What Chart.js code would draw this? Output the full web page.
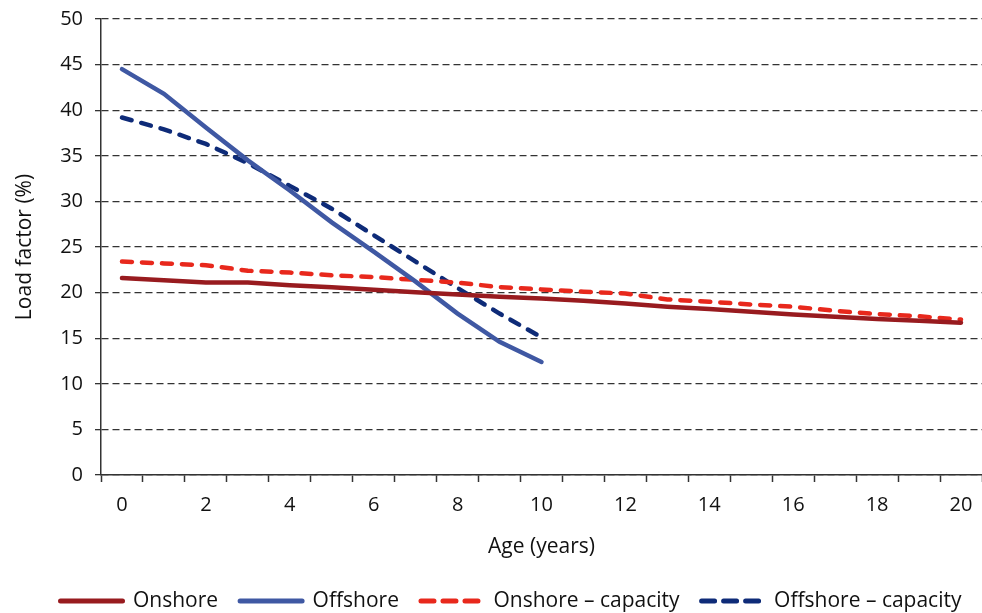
<!DOCTYPE html>
<html>
<head>
<meta charset="utf-8">
<script src="https://cdn.jsdelivr.net/npm/chart.js@4"></script>
<style>
html,body{margin:0;padding:0;background:#fff;}
#wrap{width:982px;height:613px;}
</style>
</head>
<body>
<div id="wrap"><canvas id="c" width="982" height="613"></canvas></div>
<script>
const ages = ['0','1','2','3','4','5','6','7','8','9','10','11','12','13','14','15','16','17','18','19','20'];
const onshore = [21.6, 21.35, 21.1, 21.1, 20.8, 20.6, 20.3, 20.05, 19.8, 19.55, 19.35, 19.1, 18.8, 18.45, 18.2, 17.9, 17.6, 17.35, 17.1, 16.9, 16.7];
const offshore = [44.5, 41.8, 38.1, 34.5, 31.2, 27.7, 24.5, 21.2, 17.7, 14.6, 12.4];
const onshoreCapacity = [23.4, 23.2, 23.0, 22.4, 22.2, 21.9, 21.7, 21.4, 21.1, 20.6, 20.35, 20.1, 19.9, 19.25, 19.0, 18.7, 18.45, 18.0, 17.65, 17.4, 17.05];
const offshoreCapacity = [39.2, 37.9, 36.3, 34.2, 31.7, 29.2, 26.3, 23.4, 20.5, 17.7, 15.1];
const yTicks = [0, 5, 10, 15, 20, 25, 30, 35, 40, 45, 50];

const FONT = '"Open Sans", Lato, sans-serif';
Chart.defaults.font.family = FONT;
Chart.defaults.color = '#111';

const PLOT_BOTTOM = 475;
const LEGEND_CENTER = 601;
const LEGEND_X_SHIFT = 20;

const common = { pointRadius: 0, pointHoverRadius: 0, pointStyle: 'line', fill: false, tension: 0, borderWidth: 4.5, borderCapStyle: 'round' };

const legendShift = {
  id: 'legendShift',
  afterLayout(chart) {
    const L = chart.legend;
    if (!L) return;
    const pad = L.options.labels.padding;
    const fs = L.options.labels.font.size;
    const newTop = LEGEND_CENTER - pad - fs / 2;
    const d = newTop - L.top;
    L.top += d; L.bottom += d;
    L.left += LEGEND_X_SHIFT; L.right += LEGEND_X_SHIFT;
  }
};

new Chart(document.getElementById('c'), {
  type: 'line',
  data: {
    labels: ages,
    datasets: [
      Object.assign({ label: 'Onshore', data: onshore, borderColor: '#981B1F', backgroundColor: '#981B1F' }, common),
      Object.assign({ label: 'Offshore', data: offshore, borderColor: '#3F58A3', backgroundColor: '#3F58A3' }, common),
      Object.assign({ label: 'Onshore \u2013 capacity', data: onshoreCapacity, borderColor: '#E8281C', backgroundColor: '#E8281C', borderDash: [10, 10] }, common),
      Object.assign({ label: 'Offshore \u2013 capacity', data: offshoreCapacity, borderColor: '#0E2B78', backgroundColor: '#0E2B78', borderDash: [10, 10] }, common)
    ]
  },
  plugins: [legendShift],
  options: {
    responsive: false,
    animation: false,
    devicePixelRatio: 1,
    layout: { padding: { top: 19, right: 0, left: 0, bottom: 0 } },
    plugins: {
      tooltip: { enabled: false },
      legend: {
        position: 'bottom',
        labels: {
          usePointStyle: true,
          pointStyleWidth: 62,
          boxWidth: 62,
          boxHeight: 6,
          padding: 22,
          color: '#111',
          font: { size: 21, family: FONT },
          generateLabels(chart) {
            return chart.data.datasets.map((ds, i) => ({
              text: ds.label,
              fillStyle: ds.borderColor,
              strokeStyle: ds.borderColor,
              lineWidth: 5,
              lineCap: 'round',
              lineDash: ds.borderDash ? [13, 9] : [],
              pointStyle: 'line',
              fontColor: '#111',
              hidden: false,
              datasetIndex: i
            }));
          }
        }
      }
    },
    scales: {
      x: {
        type: 'category',
        offset: true,
        afterFit: (s) => { s.height = 613 - PLOT_BOTTOM - s.chart.legend.height; s.paddingRight = 0; s.paddingLeft = 0; },
        grid: { display: true, offset: true, drawOnChartArea: false, drawTicks: true, tickLength: 7, tickColor: '#333', tickWidth: 1.5 },
        border: { display: true, color: '#333', width: 1.5 },
        ticks: {
          autoSkip: false, maxRotation: 0, minRotation: 0, padding: 11,
          color: '#111', font: { size: 20, family: FONT },
          callback: function(v, i) { return i % 2 === 0 ? ages[i] : ''; }
        },
        title: { display: true, text: 'Age (years)', color: '#111', font: { size: 21, family: FONT }, padding: { top: 1, bottom: 0 } }
      },
      y: {
        min: 0, max: 50,
        afterFit: (s) => { s.width = 101; s.paddingTop = 0; s.paddingBottom = 0; },
        afterBuildTicks: (s) => { s.ticks = yTicks.map(v => ({ value: v })); },
        grid: { display: true, color: '#333', lineWidth: 1.3, drawTicks: true, tickLength: 6, tickColor: '#333' },
        border: { display: true, color: '#333', width: 1.5, dash: [7, 4] },
        ticks: { padding: 12, color: '#111', font: { size: 20, family: FONT } },
        title: { display: true, text: 'Load factor (%)', color: '#111', font: { size: 21, family: FONT }, padding: { top: 12, bottom: 4 } }
      }
    }
  }
});
</script>
</body>
</html>
